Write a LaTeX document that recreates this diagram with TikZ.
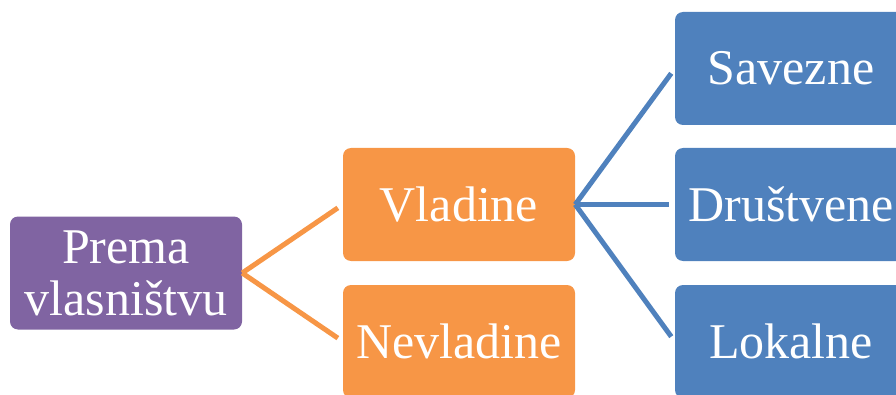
\documentclass[tikz,border=0pt]{standalone}
\usepackage{fontspec}
\setmainfont{Liberation Serif}
\definecolor{cpurple}{HTML}{8064A2}
\definecolor{corange}{HTML}{F79646}
\definecolor{cblue}{HTML}{4F81BD}
\begin{document}
\begin{tikzpicture}[x=1pt,y=1pt,
  box/.style={rounded corners=8pt, minimum width=232pt, minimum height=113pt,
    inner sep=0pt, text=white, align=center,
    font=\fontsize{50}{52}\selectfont},
  pbox/.style={box, fill=cpurple},
  obox/.style={box, fill=corange},
  bbox/.style={box, fill=cblue},
  oline/.style={draw=corange, line width=5pt, shorten >=6pt},
  bline/.style={draw=cblue, line width=5pt, shorten >=6pt}]
\clip (0,0) rectangle (896,394);
\useasboundingbox (0,0) rectangle (896,394);
\node[pbox] (prema) at (126,121) {Prema\\vlasništvu};
\node[obox] (vlad) at (459,189.5) {Vladine};
\node[obox] (nevlad) at (459,52.5) {Nevladine};
\node[bbox] (sav) at (791,325.5) {Savezne};
\node[bbox] (drus) at (791,189.5) {Društvene};
\node[bbox] (lok) at (791,52.5) {Lokalne};
\draw[oline] (prema.east) -- (vlad.west);
\draw[oline] (prema.east) -- (nevlad.west);
\draw[bline] (vlad.east) -- (sav.west);
\draw[bline] (vlad.east) -- (drus.west);
\draw[bline] (vlad.east) -- (lok.west);
\end{tikzpicture}
\end{document}
